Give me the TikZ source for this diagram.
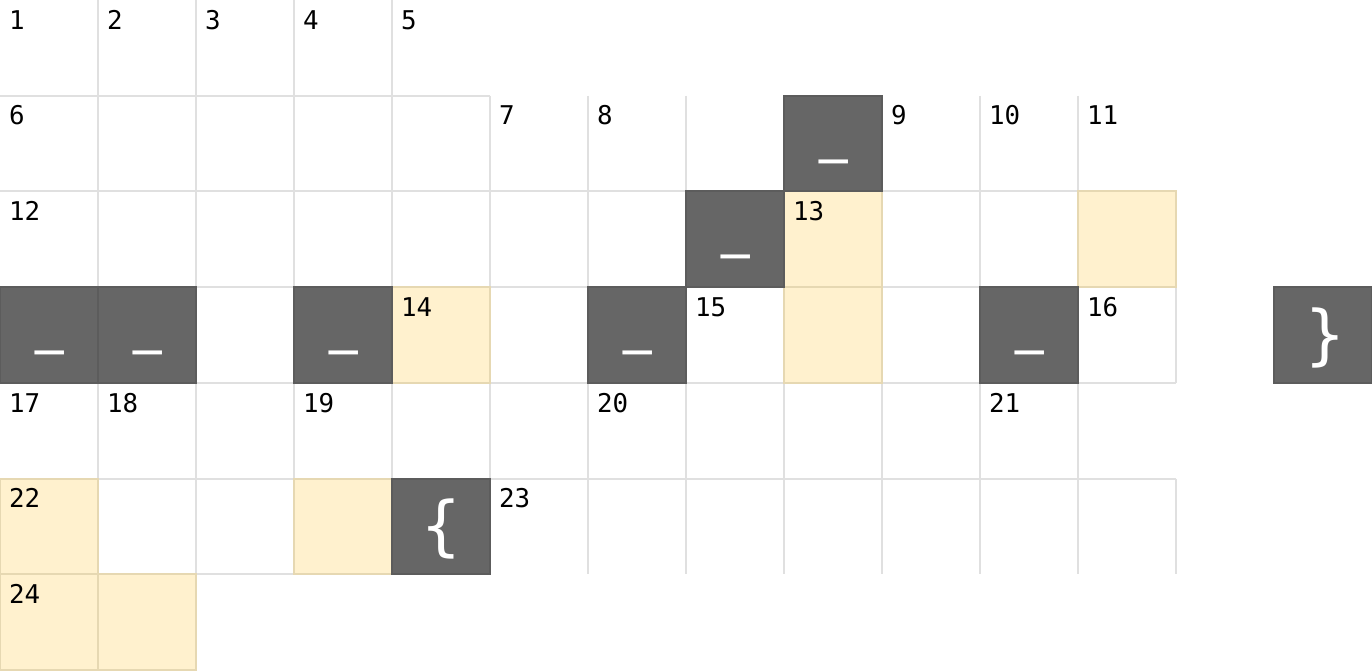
\documentclass[tikz,border=0pt]{standalone}
\usepackage{fontspec}
\usepackage{xcolor}
\usepackage{tikz}
\newfontfamily\numfont{DejaVu Sans Mono}
\newfontfamily\glyphfont{DejaVu Sans}
\definecolor{gridline}{HTML}{E0E0E0}
\definecolor{hlfill}{HTML}{FFF1CE}
\definecolor{hlline}{HTML}{E6D8B2}
\definecolor{blockfill}{HTML}{666666}
\definecolor{blockline}{HTML}{5C5C5C}
\tikzset{
  grid line/.style={gridline, line width=0.6pt},
  hl cell/.style={fill=hlfill, draw=hlline, line width=0.6pt},
  block cell/.style={fill=blockfill, draw=blockline, line width=0.6pt},
  clue num/.style={anchor=base west, inner sep=0pt,
    font=\numfont\fontsize{7.5}{8}\selectfont},
  block glyph/.style={text=white, inner sep=0pt,
    font=\glyphfont\fontsize{16.5}{18}\selectfont},
  brace glyph/.style={block glyph,
    font=\glyphfont\fontsize{19}{20}\selectfont},
}

\begin{document}
\begin{tikzpicture}[x=1cm, y=-0.97668cm]
\useasboundingbox (0,0) rectangle (14,7);

% grid lines, only between two neighbouring cells
% vertical: row / last column of that row
\foreach \r/\n in {0/4, 1/11, 2/11, 3/13, 4/11, 5/12, 6/2}{
  \foreach \c in {1,...,\n}
    \draw[grid line] (\c,\r) -- (\c,\r+1);
}
% horizontal: row boundary / last column
\foreach \r/\n in {1/4, 2/11, 3/11, 4/11, 5/11, 6/2}
  \draw[grid line] (0,\r) -- (\n+1,\r);

% highlighted cells
\foreach \c/\r in {8/2, 11/2, 4/3, 8/3, 0/5, 3/5, 0/6, 1/6}
  \draw[hl cell] (\c,\r) rectangle ++(1,1);

% blocked cells with an underscore
\foreach \c/\r in {8/1, 7/2, 0/3, 1/3, 3/3, 6/3, 10/3}{
  \draw[block cell] (\c,\r) rectangle ++(1,1);
  \node[block glyph, anchor=base] (bar-\c-\r) at (\c+0.51,\r+0.57) {\_};
}

% blocked cells with a brace
\draw[block cell] (13,3) rectangle ++(1,1);
\node[brace glyph] (close) at (13.52,3.53) {\}};
\draw[block cell] (4,5) rectangle ++(1,1);
\node[brace glyph] (open) at (4.5,5.53) {\{};

% clue numbers: number/column/row
\foreach \n/\c/\r in {1/0/0, 2/1/0, 3/2/0, 4/3/0, 5/4/0,
    6/0/1, 7/5/1, 8/6/1, 9/9/1, 10/10/1, 11/11/1,
    12/0/2, 13/8/2, 14/4/3, 15/7/3, 16/11/3,
    17/0/4, 18/1/4, 19/3/4, 20/6/4, 21/10/4,
    22/0/5, 23/5/5, 24/0/6}
  \node[clue num] (num\n) at (\c+0.085,\r+0.305) {\n};

\end{tikzpicture}
\end{document}
